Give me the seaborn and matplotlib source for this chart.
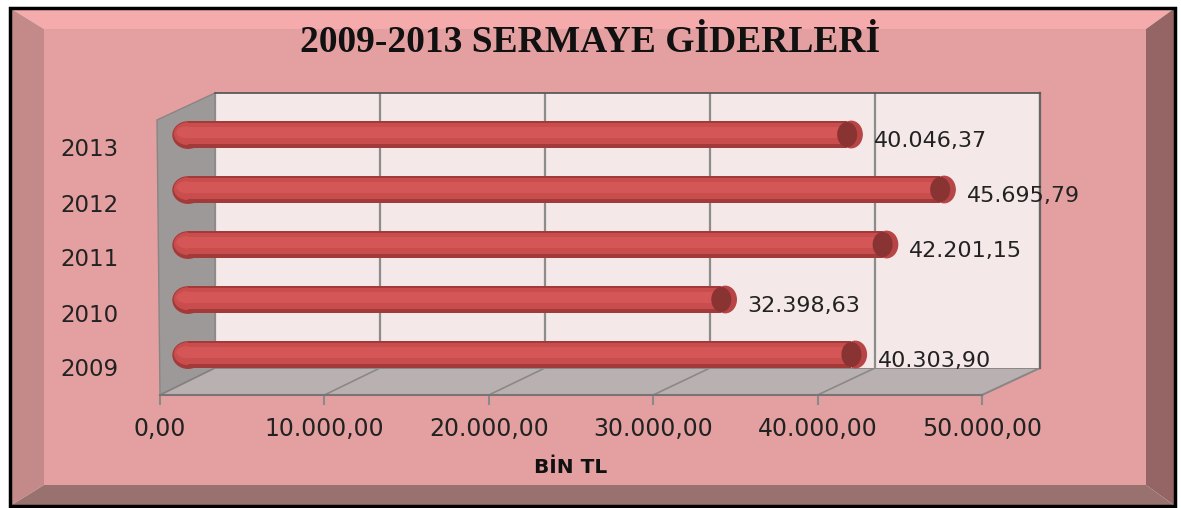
#!/usr/bin/env python3
"""
2009-2013 Sermaye Giderleri chart (pseudo 3D horizontal cylinders).
"""

import numpy as np
import pandas as pd
import matplotlib.pyplot as plt
import seaborn as sns
from matplotlib.patches import Polygon, Rectangle, Ellipse

# data
years = ["2013", "2012", "2011", "2010", "2009"]
values = [40046.37, 45695.79, 42201.15, 32398.63, 40303.90]
x_ticks = [0, 10000, 20000, 30000, 40000, 50000]
title = "2009-2013 SERMAYE GİDERLERİ"
x_label = "BİN TL"

W, H = 1181, 508
XMAX = 50000


def tr_fmt(v):
    """Turkish number format: 40.046,37"""
    s = f"{v:,.2f}"
    return s.replace(",", "X").replace(".", ",").replace("X", ".")


def add_axes_px(fig, l, t, r, b, **kw):
    return fig.add_axes([l / W, 1 - b / H, (r - l) / W, (b - t) / H], **kw)


def draw_frame(bg):
    bg.add_patch(Rectangle((44, 29), 1102, 456, color="#e4a0a0"))
    bevels = [
        ([(10, 8), (1175, 8), (1146, 29), (44, 29)], "#f5abab"),
        ([(10, 8), (44, 29), (44, 485), (10, 506)], "#c48a8a"),
        ([(1175, 8), (1175, 506), (1146, 485), (1146, 29)], "#956464"),
        ([(10, 506), (1175, 506), (1146, 485), (44, 485)], "#99716e"),
    ]
    for pts, c in bevels:
        bg.add_patch(Polygon(pts, closed=True, color=c, lw=0))
    bg.add_patch(Rectangle((10, 8), 1165, 498, fill=False, ec="black", lw=2.5))


def draw_floor(bg):
    # side wall and floor of the 3D box
    bg.add_patch(Polygon([(157, 120), (215, 93), (215, 368), (160, 395)],
                         closed=True, fc="#9e9999", ec="#8a8585", lw=1))
    bg.add_patch(Polygon([(160, 395), (982, 395), (1040, 368), (215, 368)],
                         closed=True, fc="#b9b1b1", ec="#858080", lw=1.2))
    for t in x_ticks[1:]:
        xb = 215 + t / XMAX * 825
        xf = 160 + t / XMAX * 822
        bg.plot([xb, xf], [368, 395], color="#8c8888", lw=1.2)


def main():
    sns.set_theme(style="white")
    plt.rcParams["font.family"] = ["DejaVu Sans"]

    fig = plt.figure(figsize=(W / 100, H / 100), dpi=100)

    bg = add_axes_px(fig, 0, 0, W, H, zorder=0)
    bg.set_xlim(0, W)
    bg.set_ylim(H, 0)
    bg.axis("off")
    draw_frame(bg)
    draw_floor(bg)

    fig.text(0.5, 1 - 43 / H, title, ha="center", va="center",
             family="Liberation Serif", weight="bold", fontsize=27, color="#111111")

    # back wall with gridlines
    back = add_axes_px(fig, 215, 93, 1040, 368, zorder=1)
    back.set_facecolor("#f4e8e8")
    back.set_xlim(0, XMAX)
    back.set_xticks(x_ticks)
    back.set_yticks([])
    back.xaxis.grid(True, color="#8c8c8c", lw=1.6)
    back.tick_params(length=0, labelbottom=False)
    for side in ["left", "bottom"]:
        back.spines[side].set_visible(False)
    back.spines["top"].set_color("#555555")
    back.spines["right"].set_color("#666666")
    back.spines["right"].set_linewidth(1.6)

    # bars at mid depth
    df = pd.DataFrame({"year": years, "value": values})
    ax = add_axes_px(fig, 188, 107, 1011, 382, zorder=2)
    ax.patch.set_alpha(0)
    pos = np.arange(len(years))
    bar_h = 0.48
    px = XMAX / 823  # data units per pixel
    # rounded left end, drawn under the body
    for i in pos:
        ax.add_patch(Ellipse((0, i + 0.01), 30 * px, bar_h, color="#a33a3a",
                             clip_on=False, zorder=0.5))
        ax.add_patch(Ellipse((0, i - 0.015), 27 * px, 0.39, color="#c94d4d",
                             clip_on=False, zorder=0.6))
        ax.add_patch(Ellipse((0, i - 0.04), 22 * px, 0.2, color="#d45656",
                             clip_on=False, zorder=0.7))
    sns.barplot(data=df, x="value", y="year", order=years, orient="h",
                color="#a33a3a", width=bar_h, saturation=1, linewidth=0, ax=ax)
    ax.barh(pos - 0.015, values, height=0.39, color="#c94d4d", lw=0)
    ax.barh(pos - 0.04, values, height=0.2, color="#d45656", lw=0)
    for i, v in enumerate(values):
        ax.add_patch(Ellipse((v + 4 * px, i), 22 * px, bar_h, color="#b84545",
                             clip_on=False, zorder=3))
        ax.add_patch(Ellipse((v, i), 20 * px, bar_h * 0.95, fc="#8a3333",
                             ec="none", clip_on=False, zorder=3.5))
        ax.annotate(tr_fmt(v), (v, i), xytext=(19, -5), textcoords="offset points",
                    ha="left", va="center", fontsize=16, color="#222222")
    ax.set_xlim(0, XMAX)
    ax.set_ylim(len(years) - 0.5, -0.5)
    ax.axis("off")

    # front axis: ticks and labels
    front = add_axes_px(fig, 160, 120, 982, 395, zorder=3)
    front.patch.set_alpha(0)
    front.set_xlim(0, XMAX)
    front.set_ylim(len(years) - 0.5, -0.5)
    front.set_xticks(x_ticks)
    front.set_xticklabels([tr_fmt(t) for t in x_ticks], fontsize=17, color="#222222")
    front.set_yticks(range(len(years)))
    front.set_yticklabels(years, fontsize=16.5, color="#222222")
    front.tick_params(axis="x", direction="out", length=7, width=1.5,
                      color="#8a8a8a", pad=9, bottom=True)
    front.tick_params(axis="y", length=0, pad=30)
    for side in ["top", "right", "left"]:
        front.spines[side].set_visible(False)
    front.spines["bottom"].set_color("#7a7575")
    front.spines["bottom"].set_linewidth(1.5)
    front.set_xlabel(x_label, fontsize=14.5, weight="bold", labelpad=12, color="#111111")

    fig.savefig("out.png", dpi=100)
    plt.close(fig)


if __name__ == "__main__":
    main()
